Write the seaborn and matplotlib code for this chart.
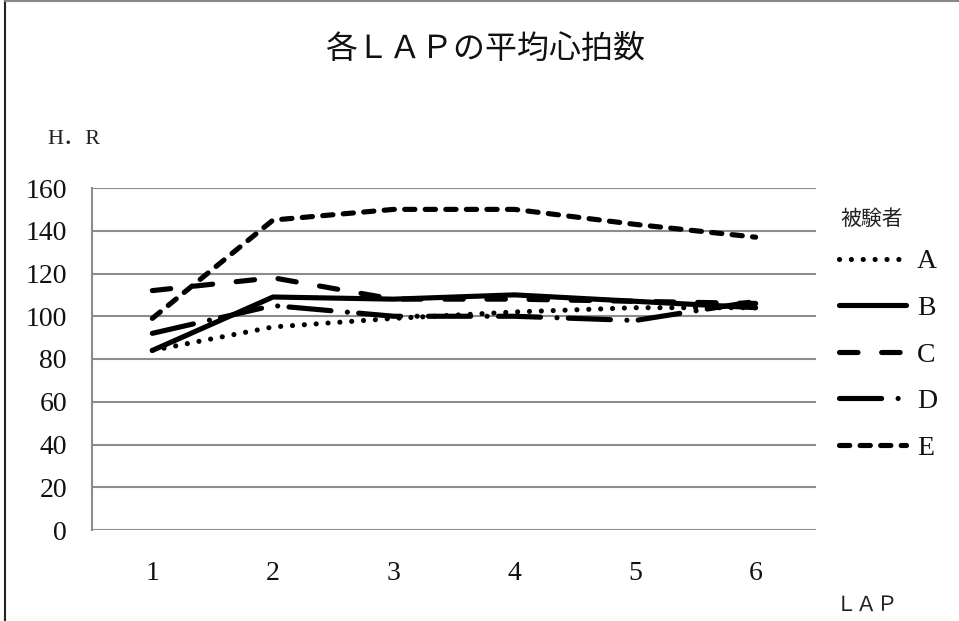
import pandas as pd
import numpy as np
import matplotlib.pyplot as plt
import seaborn as sns
from matplotlib.lines import Line2D

laps = [1, 2, 3, 4, 5, 6]
subj_a = [84, 95, 99, 102, 104, 104]
subj_b = [84, 109, 108, 110, 107, 104]
subj_c = [112, 118, 108, 108, 107, 106]
subj_d = [92, 105, 100, 100, 98, 107]
subj_e = [99, 145, 150, 150, 143, 137]
subjects = ["A", "B", "C", "D", "E"]
y_ticks = [0, 20, 40, 60, 80, 100, 120, 140, 160]

df = pd.DataFrame({
    "LAP": laps * 5,
    "HR": subj_a + subj_b + subj_c + subj_d + subj_e,
    "被験者": [s for s in subjects for _ in laps],
})

sns.set_style("white")
plt.rcParams['font.family'] = ['Liberation Serif', 'Noto Sans CJK JP']

fig = plt.figure(figsize=(9.59, 6.21), dpi=100)
W, H = 959, 621
ax = fig.add_axes([92 / W, (H - 530) / H, (816 - 92) / W, (530 - 188) / H])

dash_map = {
    "A": (0.01, 2.3),
    "B": "",
    "C": (3.6, 4.6),
    "D": (8.2, 3.2, 0.01, 2.2),
    "E": (2.0, 2.0),
}
sns.lineplot(data=df, x="LAP", y="HR", style="被験者", dashes=dash_map,
             color="black", linewidth=3.7, legend=False, ax=ax)
for ln in ax.get_lines():
    ln.set_dash_capstyle("round")
    ln.set_solid_capstyle("round")

ax.set_xlim(0.5, 6.5)
ax.set_ylim(0, 160)
ax.set_yticks(y_ticks)
ax.set_xticks(laps)
ax.grid(axis="y", color="#8c8c8c", linewidth=1.5)
ax.set_axisbelow(True)
for s in ["top", "right", "bottom"]:
    ax.spines[s].set_visible(False)
ax.spines["left"].set_color("#8c8c8c")
ax.spines["left"].set_linewidth(1.5)
ax.tick_params(axis="both", length=0, labelsize=20, colors="#111111")
ax.tick_params(axis="y", pad=18)
ax.tick_params(axis="x", pad=22)
ax.set_xlabel("")
ax.set_ylabel("")

fig.text(485 / W, 1 - 50 / H, "各ＬＡＰの平均心拍数", ha="center", va="center",
         fontsize=23, color="#111111")
fig.text(47 / W, 1 - 139 / H, "H．R", ha="left", va="center", fontsize=16,
         color="#222222")
fig.text(867 / W, 1 - 606 / H, "ＬＡＰ", ha="center", va="center", fontsize=15,
         color="#222222")

# legend title placed separately to control spacing
fig.text(840 / W, 1 - 220 / H, "被験者", ha="left", va="center", fontsize=15,
         color="#222222")
handles = [Line2D([0], [0], color="black", linewidth=3.7,
                  linestyle=(0, dash_map[s]) if dash_map[s] else "-",
                  dash_capstyle="round", solid_capstyle="round")
           for s in subjects]
leg = fig.legend(handles, subjects, loc="upper left",
                 bbox_to_anchor=(814 / W, 1 - 224 / H), frameon=False,
                 fontsize=20, handlelength=2.4,
                 labelspacing=0.76, handletextpad=0.4)
for t in leg.get_texts():
    t.set_color("#111111")

fig.add_artist(Line2D([5 / W, 5 / W], [0, 1], color="#222222", linewidth=1.5,
                      transform=fig.transFigure))
fig.add_artist(Line2D([5 / W, 1], [1 - 1 / H, 1 - 1 / H], color="#888888",
                      linewidth=1.5, transform=fig.transFigure))

fig.savefig("out.png", dpi=100)
